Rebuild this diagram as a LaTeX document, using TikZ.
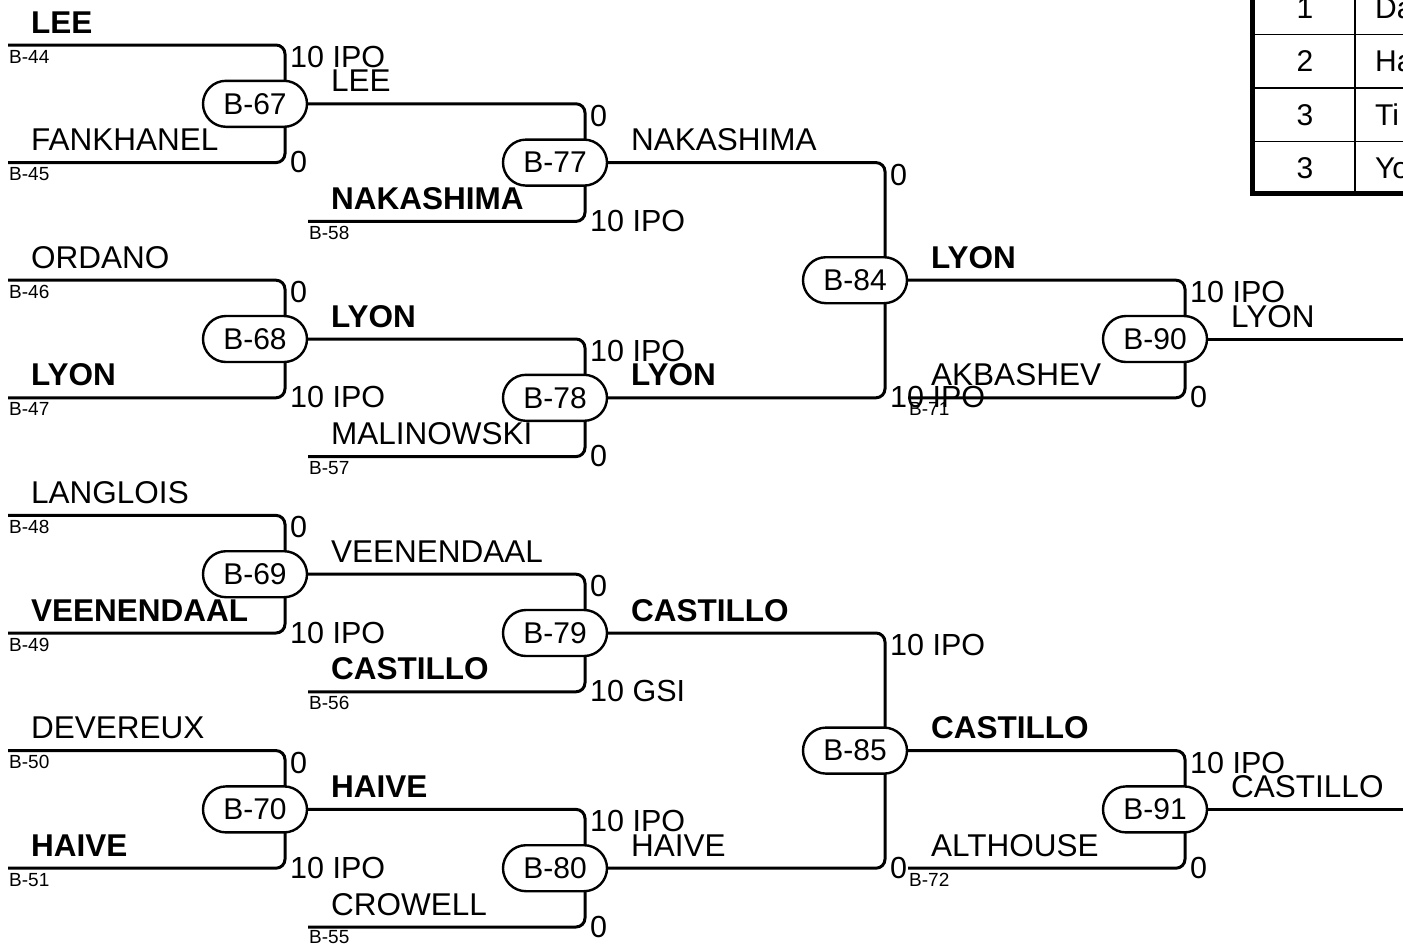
\documentclass[tikz,border=0pt]{standalone}
\usepackage{fontspec}
\setmainfont{Liberation Sans}
\usetikzlibrary{backgrounds}
\begin{document}
\begin{tikzpicture}[x=1pt,y=-1pt,
  match/.style={draw, line width=2.4pt, rounded corners=23pt, minimum width=104pt, minimum height=46pt, fill=white, inner sep=0pt, font=\fontsize{30}{30}\selectfont},
  wire/.style={line width=3pt, rounded corners=9pt},
  nm/.style={anchor=base west, inner sep=0pt, font=\fontsize{31.5}{31.5}\selectfont},
  nmb/.style={anchor=base west, inner sep=0pt, font=\fontsize{31.5}{31.5}\selectfont\bfseries},
  sc/.style={anchor=base west, inner sep=0pt, font=\fontsize{30.5}{30.5}\selectfont},
  src/.style={anchor=base west, inner sep=0pt, font=\fontsize{19}{19}\selectfont},
  cell/.style={inner sep=0pt, font=\fontsize{30}{30}\selectfont},
]
\useasboundingbox (0,0) rectangle (1403,946);

% match nodes
\node[match] (b67) at (255,103.8) {B-67};
\node[match] (b68) at (255,339) {B-68};
\node[match] (b69) at (255,574.2) {B-69};
\node[match] (b70) at (255,809.4) {B-70};
\node[match] (b77) at (555,162.6) {B-77};
\node[match] (b78) at (555,397.8) {B-78};
\node[match] (b79) at (555,633) {B-79};
\node[match] (b80) at (555,868.2) {B-80};
\node[match] (b84) at (855,280.2) {B-84};
\node[match] (b85) at (855,750.6) {B-85};
\node[match] (b90) at (1155,339) {B-90};
\node[match] (b91) at (1155,809.4) {B-91};

% free ends
\coordinate (s44) at (8,45);
\coordinate (s45) at (8,162.6);
\coordinate (s46) at (8,280.2);
\coordinate (s47) at (8,397.8);
\coordinate (s48) at (8,515.4);
\coordinate (s49) at (8,633);
\coordinate (s50) at (8,750.6);
\coordinate (s51) at (8,868.2);
\coordinate (s58) at (308,221.4);
\coordinate (s57) at (308,456.6);
\coordinate (s56) at (308,691.8);
\coordinate (s55) at (308,927);
\coordinate (s71) at (908,397.8);
\coordinate (s72) at (908,868.2);
\coordinate (e90) at (1410,339);
\coordinate (e91) at (1410,809.4);

\begin{pgfonlayer}{background}
\draw[wire] (s44) -| ([xshift=30pt]b67.center);
\draw[wire] (s45) -| ([xshift=30pt]b67.center);
\draw[wire] (s46) -| ([xshift=30pt]b68.center);
\draw[wire] (s47) -| ([xshift=30pt]b68.center);
\draw[wire] (s48) -| ([xshift=30pt]b69.center);
\draw[wire] (s49) -| ([xshift=30pt]b69.center);
\draw[wire] (s50) -| ([xshift=30pt]b70.center);
\draw[wire] (s51) -| ([xshift=30pt]b70.center);
\draw[wire] (b67.east) -| ([xshift=30pt]b77.center);
\draw[wire] (s58) -| ([xshift=30pt]b77.center);
\draw[wire] (b68.east) -| ([xshift=30pt]b78.center);
\draw[wire] (s57) -| ([xshift=30pt]b78.center);
\draw[wire] (b69.east) -| ([xshift=30pt]b79.center);
\draw[wire] (s56) -| ([xshift=30pt]b79.center);
\draw[wire] (b70.east) -| ([xshift=30pt]b80.center);
\draw[wire] (s55) -| ([xshift=30pt]b80.center);
\draw[wire] (b77.east) -| ([xshift=30pt]b84.center);
\draw[wire] (b78.east) -| ([xshift=30pt]b84.center);
\draw[wire] (b79.east) -| ([xshift=30pt]b85.center);
\draw[wire] (b80.east) -| ([xshift=30pt]b85.center);
\draw[wire] (b84.east) -| ([xshift=30pt]b90.center);
\draw[wire] (s71) -| ([xshift=30pt]b90.center);
\draw[wire] (b85.east) -| ([xshift=30pt]b91.center);
\draw[wire] (s72) -| ([xshift=30pt]b91.center);
\draw[wire] (b90.east) -- (e90);
\draw[wire] (b91.east) -- (e91);
\end{pgfonlayer}

% source labels
\node[src] (l44) at (9,63) {B-44};
\node[src] (l45) at (9,180.6) {B-45};
\node[src] (l46) at (9,298.2) {B-46};
\node[src] (l47) at (9,415.8) {B-47};
\node[src] (l48) at (9,533.4) {B-48};
\node[src] (l49) at (9,651) {B-49};
\node[src] (l50) at (9,768.6) {B-50};
\node[src] (l51) at (9,886.2) {B-51};
\node[src] (l58) at (309,239.4) {B-58};
\node[src] (l57) at (309,474.6) {B-57};
\node[src] (l56) at (309,709.8) {B-56};
\node[src] (l55) at (309,943) {B-55};
\node[src] (l71) at (909,415.8) {B-71};
\node[src] (l72) at (909,886.2) {B-72};

% round 1 names
\node[nmb] (r1a) at (31,33) {LEE};
\node[nm]  (r1b) at (31,150.6) {FANKHANEL};
\node[nm]  (r1c) at (31,268.2) {ORDANO};
\node[nmb] (r1d) at (31,385.8) {LYON};
\node[nm]  (r1e) at (31,503.4) {LANGLOIS};
\node[nmb] (r1f) at (31,621) {VEENENDAAL};
\node[nm]  (r1g) at (31,738.6) {DEVEREUX};
\node[nmb] (r1h) at (31,856.2) {HAIVE};
% round 2 names
\node[nm]  (r2a) at (331,91.8) {LEE};
\node[nmb] (r2b) at (331,209.4) {NAKASHIMA};
\node[nmb] (r2c) at (331,327) {LYON};
\node[nm]  (r2d) at (331,444.6) {MALINOWSKI};
\node[nm]  (r2e) at (331,562.2) {VEENENDAAL};
\node[nmb] (r2f) at (331,679.8) {CASTILLO};
\node[nmb] (r2g) at (331,797.4) {HAIVE};
\node[nm]  (r2h) at (331,915) {CROWELL};
% round 3 names
\node[nm]  (r3a) at (631,150.6) {NAKASHIMA};
\node[nmb] (r3b) at (631,385.8) {LYON};
\node[nmb] (r3c) at (631,621) {CASTILLO};
\node[nm]  (r3d) at (631,856.2) {HAIVE};
% round 4 names
\node[nmb] (r4a) at (931,268.2) {LYON};
\node[nm]  (r4b) at (931,385.8) {AKBASHEV};
\node[nmb] (r4c) at (931,738.6) {CASTILLO};
\node[nm]  (r4d) at (931,856.2) {ALTHOUSE};
% round 5 names
\node[nm]  (r5a) at (1231,327) {LYON};
\node[nm]  (r5b) at (1231,797.4) {CASTILLO};

% scores round 1
\node[sc] (c1a) at (290,67.5) {10 IPO};
\node[sc] (c1b) at (290,172.6) {0};
\node[sc] (c1c) at (290,302.7) {0};
\node[sc] (c1d) at (290,407.8) {10 IPO};
\node[sc] (c1e) at (290,537.9) {0};
\node[sc] (c1f) at (290,643) {10 IPO};
\node[sc] (c1g) at (290,773.1) {0};
\node[sc] (c1h) at (290,878.2) {10 IPO};
% scores round 2
\node[sc] (c2a) at (590,126.3) {0};
\node[sc] (c2b) at (590,231.4) {10 IPO};
\node[sc] (c2c) at (590,361.5) {10 IPO};
\node[sc] (c2d) at (590,466.6) {0};
\node[sc] (c2e) at (590,596.7) {0};
\node[sc] (c2f) at (590,701.8) {10 GSI};
\node[sc] (c2g) at (590,831.9) {10 IPO};
\node[sc] (c2h) at (590,937) {0};
% scores round 3
\node[sc] (c3a) at (890,185.1) {0};
\node[sc] (c3b) at (890,407.8) {10 IPO};
\node[sc] (c3c) at (890,655.5) {10 IPO};
\node[sc] (c3d) at (890,878.2) {0};
% scores round 4
\node[sc] (c4a) at (1190,302.7) {10 IPO};
\node[sc] (c4b) at (1190,407.8) {0};
\node[sc] (c4c) at (1190,773.1) {10 IPO};
\node[sc] (c4d) at (1190,878.2) {0};

% standings table (cut by the picture edge)
\draw[line width=1.6pt] (1252,34.5) -- (1420,34.5);
\draw[line width=1.6pt] (1252,88) -- (1420,88);
\draw[line width=1.6pt] (1252,141.5) -- (1420,141.5);
\draw[line width=1.6pt] (1355,-30) -- (1355,193);
\draw[line width=5pt] (1252,-30) -- (1252,193) -- (1420,193);
\node[cell] (p1) at (1305,8) {1};
\node[cell] (p2) at (1305,61.5) {2};
\node[cell] (p3) at (1305,115) {3};
\node[cell] (p4) at (1305,168) {3};
\node[cell, anchor=west] (q1) at (1375,8) {Da};
\node[cell, anchor=west] (q2) at (1375,61.5) {Ha};
\node[cell, anchor=west] (q3) at (1375,115) {Ti};
\node[cell, anchor=west] (q4) at (1375,168) {Yo};
\end{tikzpicture}
\end{document}
